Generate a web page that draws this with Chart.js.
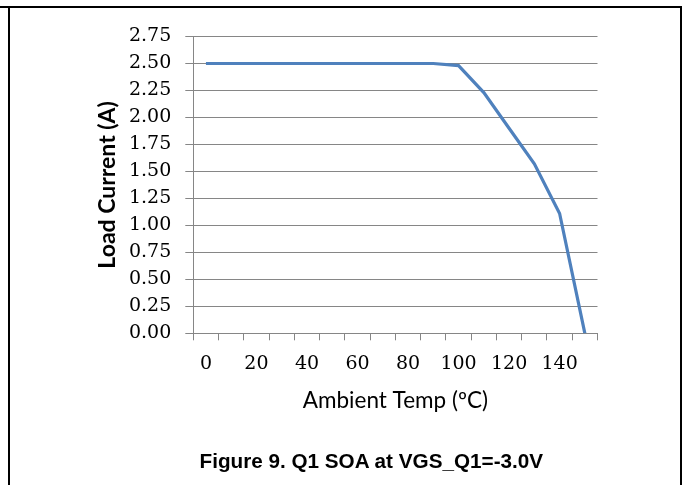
<!DOCTYPE html>
<html>
<head>
<meta charset="utf-8">
<script src="https://cdn.jsdelivr.net/npm/chart.js@4"></script>
<style>
  html, body { margin: 0; padding: 0; background: #fff; }
  body { width: 683px; height: 485px; position: relative; overflow: hidden; }
  #wrap { position: absolute; left: 0; top: 0; width: 683px; height: 485px; }
  .ln { position: absolute; background: #000; }
  #caption { position: absolute; left: 199.5px; top: 450.5px; font: bold 20.7px Arial, "Liberation Sans", sans-serif; line-height: 20px; white-space: nowrap; color: #000; }
</style>
</head>
<body>
<div id="wrap"><canvas id="c" width="683" height="485"></canvas></div>
<div class="ln" style="left:0;top:6px;width:682px;height:2px"></div>
<div class="ln" style="left:8px;top:6px;width:2px;height:479px"></div>
<div class="ln" style="left:680px;top:6px;width:2px;height:479px"></div>
<div id="caption">Figure 9. Q1 SOA at VGS_Q1=-3.0V</div>
<script>
const temps = [0, 10, 20, 30, 40, 50, 60, 70, 80, 90, 100, 110, 120, 130, 140, 150];
const loadCurrent = [2.5, 2.5, 2.5, 2.5, 2.5, 2.5, 2.5, 2.5, 2.5, 2.5, 2.48, 2.23, 1.90, 1.57, 1.11, 0];
const yMin = 0, yMax = 2.75, yStep = 0.25;
const xTitle = 'Ambient Temp (ºC)';
const yTitle = 'Load Current (A)';

const gridColor = '#868686';

new Chart(document.getElementById('c'), {
  type: 'line',
  data: {
    labels: temps,
    datasets: [{
      data: loadCurrent,
      borderColor: '#4F81BD',
      borderWidth: 3.2,
      pointRadius: 0,
      tension: 0,
      fill: false
    }]
  },
  options: {
    responsive: false,
    animation: false,
    events: [],
    layout: { padding: { left: 0, top: 36.5, right: 85.5, bottom: 0 } },
    plugins: { legend: { display: false }, tooltip: { enabled: false } },
    scales: {
      x: {
        type: 'category',
        offset: true,
        grid: { offset: true, drawOnChartArea: false, drawTicks: true, tickLength: 7, color: gridColor, lineWidth: 1 },
        border: { color: gridColor, width: 1 },
        ticks: {
          autoSkip: false, maxRotation: 0, padding: 12.5,
          color: '#000',
          font: { family: '"DejaVu Serif"', size: 19 },
          callback: function(v, i) { return i % 2 === 0 ? String(temps[i]) : ''; }
        },
        title: { display: true, text: xTitle, color: '#000', font: { family: 'Lato', size: 22.5 }, padding: { top: 0, bottom: 71 } },
        afterFit: function(s) { s.height = 151.7; }
      },
      y: {
        min: yMin, max: yMax,
        grid: { color: gridColor, lineWidth: 1, tickLength: 8, drawTicks: true },
        border: { color: gridColor, width: 1 },
        ticks: {
          stepSize: yStep, padding: 14, color: '#000',
          font: { family: '"DejaVu Serif"', size: 19 },
          callback: function(v) { return Number(v).toFixed(2); }
        },
        title: { display: true, text: yTitle, color: '#000', font: { family: 'Lato', size: 23, weight: 'bold' }, padding: { top: 94.2, bottom: 0 } },
        afterFit: function(s) { s.width = 193.3; }
      }
    }
  }
});
</script>
</body>
</html>
